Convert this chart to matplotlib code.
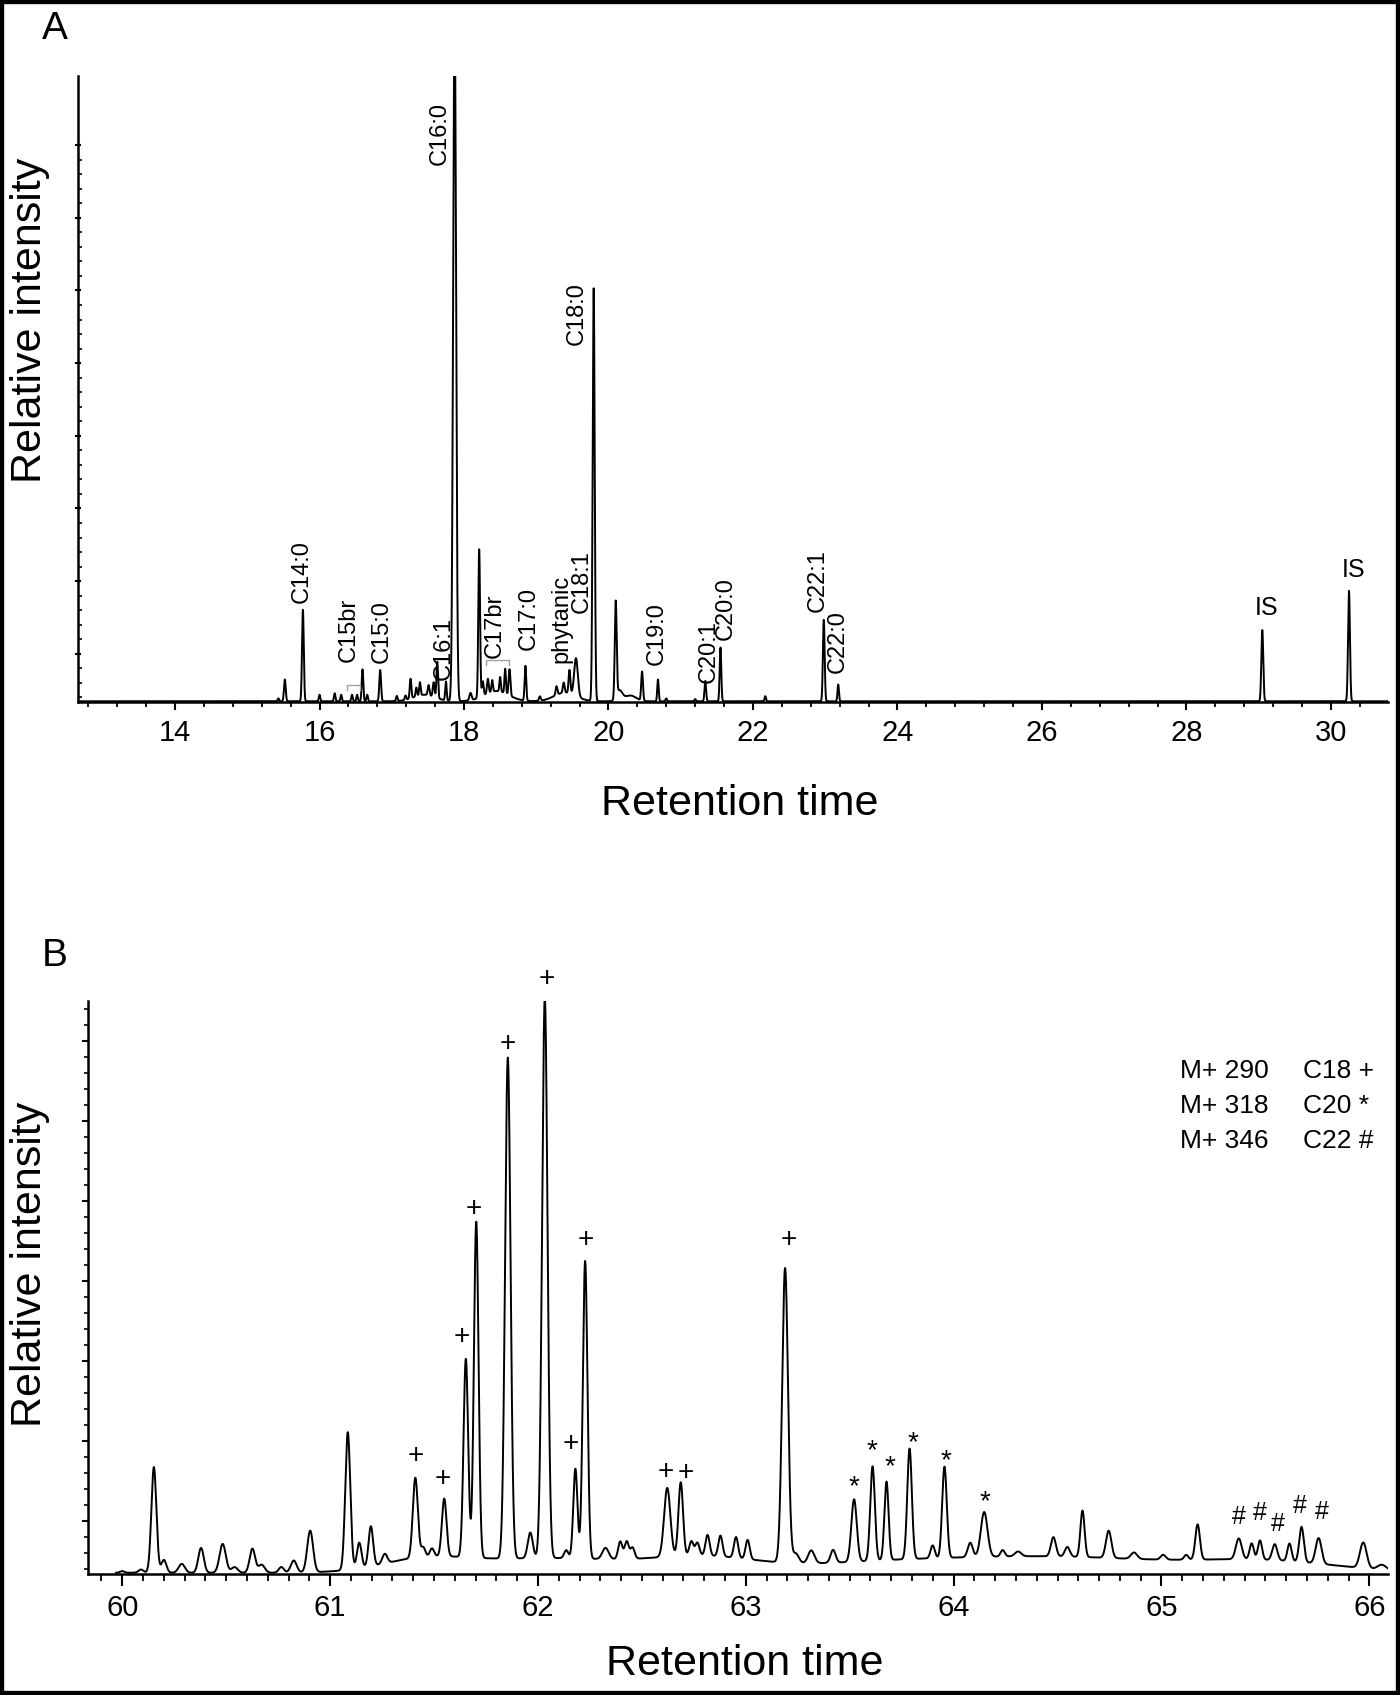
import numpy as np
import matplotlib.pyplot as plt
from matplotlib.ticker import MultipleLocator, FixedLocator
from matplotlib.patches import Rectangle

plt.rcParams['font.family'] = ['Liberation Sans', 'DejaVu Sans']

# ---------------- Panel A: FAME chromatogram (peak table) ----------------
# retention time, height (relative units), peak width (sigma)
a_rt = [15.43, 15.52, 15.77, 16.00, 16.21, 16.30, 16.45, 16.52, 16.595, 16.66,
        16.84, 17.07, 17.19, 17.26, 17.34, 17.39, 17.51, 17.58, 17.63, 17.75,
        17.87, 18.09, 18.21, 18.26, 18.33, 18.39, 18.50, 18.57, 18.63, 18.85,
        19.05, 19.28, 19.38, 19.46, 19.55, 19.795, 20.10, 20.15, 20.465, 20.685,
        20.80, 21.20, 21.34, 21.55, 22.17, 22.98, 23.18, 29.05, 30.25,
        17.45, 18.45, 19.40, 20.30]
a_height = [0.2, 1.5, 6.3, 0.45, 0.55, 0.45, 0.45, 0.45, 2.2, 0.45,
            2.15, 0.35, 0.3, 1.35, 0.6, 0.9, 0.7, 1.0, 2.5, 1.3,
            48.0, 0.5, 10.2, 1.0, 1.0, 0.8, 1.0, 1.7, 1.8, 2.4,
            0.3, 0.6, 0.7, 1.6, 2.6, 28.4, 6.6, 0.7, 2.0, 1.5,
            0.2, 0.15, 1.4, 3.7, 0.35, 5.6, 1.15, 4.9, 7.6,
            0.45, 0.7, 0.6, 0.4]
a_width = [0.01, 0.012, 0.012, 0.01, 0.01, 0.01, 0.01, 0.01, 0.011, 0.01,
           0.012, 0.01, 0.01, 0.011, 0.01, 0.01, 0.012, 0.012, 0.011, 0.01,
           0.02, 0.015, 0.012, 0.012, 0.012, 0.01, 0.01, 0.01, 0.012, 0.011,
           0.012, 0.012, 0.012, 0.012, 0.025, 0.014, 0.013, 0.04, 0.012, 0.01,
           0.01, 0.01, 0.011, 0.011, 0.01, 0.012, 0.01, 0.013, 0.013,
           0.15, 0.17, 0.15, 0.08]

a_labels = ['C14:0', 'C15br', 'C15:0', 'C16:1', 'C16:0', 'C17br', 'C17:0',
            'phytanic', 'C18:1', 'C18:0', 'C19:0', 'C20:1', 'C20:0',
            'C22:1', 'C22:0']
a_label_x = [15.76, 16.40, 16.86, 17.72, 17.67, 18.43, 18.89,
             19.35, 19.63, 19.56, 20.67, 21.39, 21.62, 22.89, 23.18]
a_label_y = [6.79, 2.77, 2.68, 1.51, 36.96, 3.03, 3.58,
             2.68, 6.13, 24.57, 2.55, 1.31, 4.27, 6.21, 2.02]
is_x = [29.11, 30.31]
is_y = [5.64, 8.28]

# brackets for branched acids: start, end, height
br_start = [16.38, 18.31]
br_end = [16.56, 18.62]
br_y = [1.17, 2.89]

# ---------------- Panel B: mass chromatogram ----------------
b_rt = [60.00, 60.09, 60.152, 60.20, 60.286, 60.379, 60.483, 60.54, 60.626, 60.67,
        60.765, 60.825, 60.904, 61.085, 61.14, 61.196, 61.263, 61.41, 61.448, 61.49,
        61.549, 61.653, 61.703, 61.855, 61.963, 62.033, 62.136, 62.18, 62.227, 62.325,
        62.396, 62.427, 62.455, 62.622, 62.687, 62.738, 62.767, 62.816, 62.878, 62.953,
        63.009, 63.189, 63.24, 63.315, 63.42, 63.521, 63.61, 63.677, 63.788, 63.899,
        63.956, 64.08, 64.147, 64.236, 64.31, 64.48, 64.547, 64.62, 64.746, 64.868,
        65.008, 65.119, 65.174, 65.372, 65.434, 65.474, 65.545, 65.616, 65.674, 65.756,
        65.971, 66.06,
        61.45, 62.05, 62.80, 63.75, 64.60, 65.50]
b_height = [0.1, 0.2, 6.6, 0.8, 0.55, 1.55, 1.8, 0.35, 1.5, 0.5,
            0.35, 0.75, 2.6, 8.6, 1.6, 2.5, 0.6, 5.0, 0.6, 0.5,
            3.6, 12.4, 21.0, 31.3, 1.6, 35.0, 0.5, 5.6, 18.6, 0.7,
            1.1, 1.1, 0.7, 4.3, 4.6, 0.9, 0.8, 1.3, 1.3, 1.3,
            1.2, 18.4, 0.6, 0.8, 0.8, 3.9, 5.9, 4.9, 6.9, 0.8,
            5.7, 0.9, 2.8, 0.4, 0.3, 1.2, 0.6, 2.9, 1.7, 0.4,
            0.3, 0.3, 2.2, 1.3, 1.0, 1.2, 1.0, 1.1, 2.2, 1.6,
            1.6, 0.3,
            0.7, 0.9, 0.8, 0.7, 0.8, 0.7]
b_width = [0.01, 0.012, 0.012, 0.012, 0.015, 0.013, 0.015, 0.015, 0.013, 0.015,
           0.012, 0.014, 0.014, 0.012, 0.011, 0.011, 0.012, 0.012, 0.01, 0.01,
           0.011, 0.011, 0.011, 0.013, 0.012, 0.013, 0.01, 0.01, 0.011, 0.015,
           0.01, 0.01, 0.01, 0.015, 0.011, 0.01, 0.01, 0.01, 0.01, 0.01,
           0.01, 0.014, 0.015, 0.015, 0.012, 0.013, 0.011, 0.01, 0.011, 0.01,
           0.011, 0.012, 0.016, 0.01, 0.015, 0.012, 0.012, 0.01, 0.013, 0.015,
           0.012, 0.01, 0.011, 0.014, 0.01, 0.01, 0.012, 0.01, 0.011, 0.014,
           0.016, 0.02,
           0.2, 0.4, 0.25, 0.5, 0.45, 0.35]

mark_t = [61.411, 61.541, 61.632, 61.69, 61.855, 62.043, 62.158, 62.232, 62.613, 62.711,
          63.209, 63.521, 63.608, 63.692, 63.803, 63.965, 64.152,
          65.372, 65.472, 65.56, 65.667, 65.771]
mark_y = [7.36, 5.94, 14.83, 22.8, 33.13, 37.2, 8.11, 20.85, 6.38, 6.3,
          20.85, 6.0, 8.24, 7.2, 8.7, 7.62, 5.04,
          3.59, 3.8, 3.15, 4.26, 3.88]
mark_sym = ['+'] * 11 + ['*'] * 6 + ['#'] * 5

ion_mass = ['M+ 290', 'M+ 318', 'M+ 346']
ion_chain = ['C18 +', 'C20 *', 'C22 #']


def trace(t, rt, height, width, base):
    y = np.full_like(t, base)
    for r, h, w in zip(rt, height, width):
        y += h * np.exp(-0.5 * ((t - r) / w) ** 2)
    return y


W, H = 1400, 1695
fig = plt.figure(figsize=(W / 100, H / 100), dpi=100)

# axes in pixel positions of the reference
axA = fig.add_axes([77.5 / W, 1 - 702 / H, (1388 - 77.5) / W, (702 - 76) / H])
axB = fig.add_axes([88.4 / W, 1 - 1574 / H, (1388 - 88.4) / W, (1574 - 1001) / H])

tA = np.linspace(12.65, 30.79, 30000)
axA.plot(tA, trace(tA, a_rt, a_height, a_width, 0.05), color='black', lw=1.4)
axA.set_xlim(12.65, 30.79)
axA.set_ylim(0, 43.08)

for lab, x, y in zip(a_labels, a_label_x, a_label_y):
    axA.text(x, y, lab, rotation=90, ha='center', va='bottom', fontsize=17)
for x, y in zip(is_x, is_y):
    axA.text(x, y, 'IS', ha='center', va='bottom', fontsize=18)
for s, e, y in zip(br_start, br_end, br_y):
    axA.plot([s, s, e, e], [y - 0.35, y, y, y - 0.35], color='#a0a0a0', lw=1.0)

tB = np.linspace(59.97, 66.09, 20000)
axB.plot(tB, trace(tB, b_rt, b_height, b_width, 0.08), color='black', lw=1.4)
axB.set_xlim(59.837, 66.09)
axB.set_ylim(0, 35.8)

nudge = {'+': 0.0, '*': -0.55, '#': 0.0}
for t, y, s in zip(mark_t, mark_y, mark_sym):
    axB.text(t, y + nudge[s], s, ha='center', va='center',
             fontsize=18 if s == '#' else 20, clip_on=False)

for i, (m, c) in enumerate(zip(ion_mass, ion_chain)):
    yy = 0.877 - i * 0.0605
    axB.text(0.840, yy, m, transform=axB.transAxes, ha='left', va='center', fontsize=19)
    axB.text(0.9346, yy, c, transform=axB.transAxes, ha='left', va='center', fontsize=19)

# axes styling
for ax in (axA, axB):
    for side in ('top', 'right'):
        ax.spines[side].set_visible(False)
    for side in ('left', 'bottom'):
        ax.spines[side].set_linewidth(1.8)
    ax.tick_params(axis='x', which='major', direction='out', length=6, width=1.5,
                   labelsize=21, pad=6)
    ax.tick_params(axis='x', which='minor', direction='out', length=3.6, width=1.3)
    ax.tick_params(axis='y', labelleft=False)

axA.xaxis.set_major_locator(MultipleLocator(2))
axA.xaxis.set_minor_locator(MultipleLocator(0.4))
axA.yaxis.set_major_locator(FixedLocator(np.arange(3.32, 39, 5.0)))
axA.yaxis.set_minor_locator(FixedLocator(np.arange(0.32, 39, 1.0)))
axA.tick_params(axis='y', which='major', direction='inout', length=5, width=1.5)
axA.tick_params(axis='y', which='minor', direction='in', length=3, width=1.2)

axB.xaxis.set_major_locator(MultipleLocator(1))
axB.xaxis.set_minor_locator(MultipleLocator(0.1))
axB.tick_params(axis='x', which='major', length=8.5)
axB.tick_params(axis='x', which='minor', length=5)
axB.yaxis.set_major_locator(FixedLocator(np.arange(3.31, 35.8, 5.0)))
axB.yaxis.set_minor_locator(FixedLocator(np.arange(0.31, 35.8, 1.0)))
axB.tick_params(axis='y', which='major', direction='out', length=4.5, width=1.5)
axB.tick_params(axis='y', which='minor', direction='out', length=2.8, width=1.2)

axA.set_xlabel('Retention time', fontsize=31, va='center')
axA.xaxis.set_label_coords(0.5055, -0.163)
axA.set_ylabel('Relative intensity', fontsize=31, va='center')
axA.yaxis.set_label_coords(-0.036, 0.609)
axB.set_xlabel('Retention time', fontsize=31, va='center')
axB.xaxis.set_label_coords(0.505, -0.157)
axB.set_ylabel('Relative intensity', fontsize=31, va='center')
axB.yaxis.set_label_coords(-0.045, 0.54)

fig.text(55 / W, 1 - 29 / H, 'A', ha='center', va='center', fontsize=28)
fig.text(55 / W, 1 - 956 / H, 'B', ha='center', va='center', fontsize=28)

fig.patches.append(Rectangle((0, 0), 1, 1, transform=fig.transFigure, fill=False,
                             edgecolor='black', lw=6))

fig.savefig('out.png', dpi=100)
